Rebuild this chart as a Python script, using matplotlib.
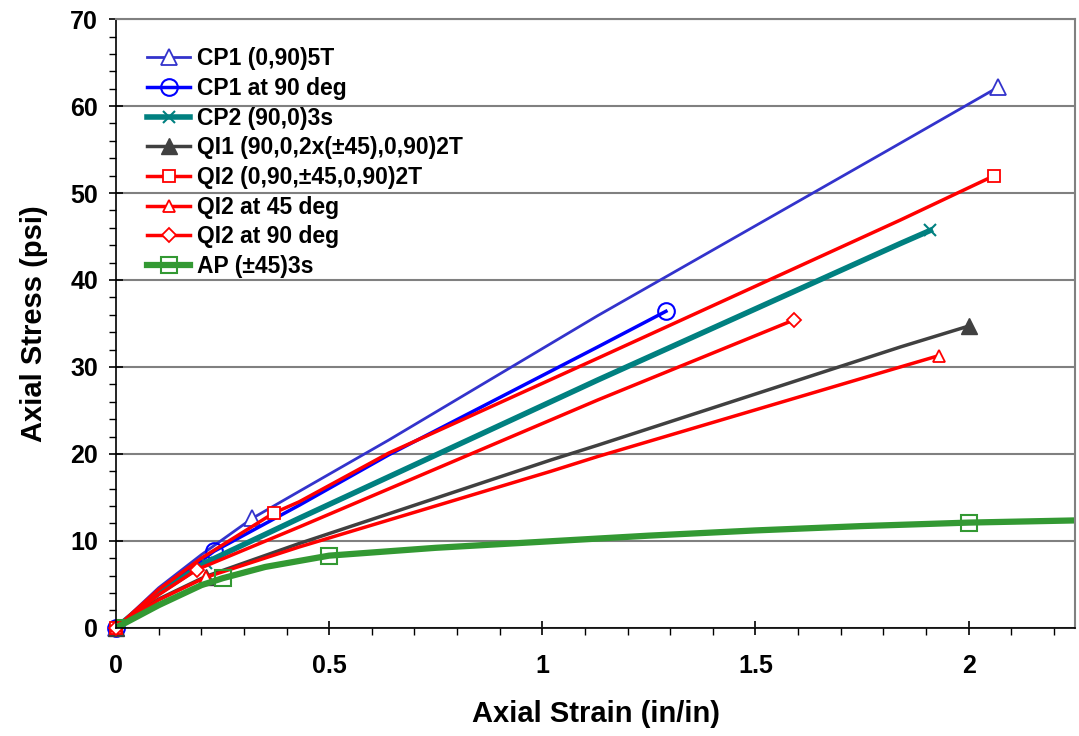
import matplotlib
matplotlib.use("Agg")
import matplotlib.pyplot as plt
from matplotlib.ticker import MultipleLocator

plt.rcParams["font.family"] = ["Liberation Sans", "DejaVu Sans"]
plt.rcParams["font.weight"] = "bold"

# data (strain in/in, stress psi)
cp1_x = [0, 0.10, 0.20, 0.32, 0.43, 0.64, 1.13, 1.81, 2.07]
cp1_y = [0, 4.6, 8.4, 12.6, 15.7, 21.6, 35.9, 54.9, 62.2]

cp1_90_x = [0, 0.12, 0.23, 0.43, 0.64, 1.13, 1.29]
cp1_90_y = [0, 4.8, 8.8, 14.1, 19.9, 32.3, 36.4]

cp2_x = [0, 0.10, 0.21, 0.43, 1.13, 1.84, 1.91]
cp2_y = [0, 4.0, 7.5, 12.6, 28.5, 44.2, 45.7]

qi1_x = [0, 0.10, 0.21, 0.43, 1.02, 1.13, 1.84, 2.00]
qi1_y = [0, 3.3, 5.9, 9.7, 19.3, 21.0, 32.3, 34.7]

qi2_x = [0, 0.10, 0.20, 0.37, 0.43, 0.64, 1.13, 1.84, 2.06]
qi2_y = [0, 4.4, 8.0, 13.2, 14.5, 20.1, 31.0, 46.9, 52.0]

qi2_45_x = [0, 0.10, 0.21, 0.43, 1.02, 1.13, 1.84, 1.93]
qi2_45_y = [0, 3.2, 5.8, 9.3, 18.0, 19.7, 30.0, 31.3]

qi2_90_x = [0, 0.10, 0.19, 0.43, 1.13, 1.59]
qi2_90_y = [0, 3.8, 6.7, 11.6, 26.2, 35.4]

ap_x = [0, 0.10, 0.20, 0.25, 0.35, 0.50, 0.75, 1.00, 1.25, 1.50, 1.75, 2.00, 2.30]
ap_y = [0, 2.6, 4.9, 5.7, 7.0, 8.3, 9.2, 9.9, 10.6, 11.2, 11.7, 12.1, 12.4]

fig = plt.figure(figsize=(10.79, 7.36), dpi=100)
ax = fig.add_axes([0.1075, 0.147, 0.889, 0.827])

ax.grid(axis="y", color="#808080", linewidth=1.5, zorder=0)
ax.set_axisbelow(True)

ax.plot(cp1_x, cp1_y, color="#3333CC", lw=2, marker="^", ms=12, mfc="white",
        mew=1.3, markevery=[0, 3, 8], label="CP1 (0,90)5T", clip_on=False)
ax.plot(cp1_90_x, cp1_90_y, color="#0000FF", lw=2.5, marker="o", ms=12, mfc="none",
        mew=1.5, markevery=[0, 2, 6], label="CP1 at 90 deg", clip_on=False)
ax.plot(cp2_x, cp2_y, color="#008080", lw=4, marker="x", ms=9, mew=1.5,
        markevery=[0, 2, 6], label="CP2 (90,0)3s", clip_on=False)
ax.plot(qi1_x, qi1_y, color="#404040", lw=2.5, marker="^", ms=12,
        markevery=[0, 2, 7], label="QI1 (90,0,2x(\u00b145),0,90)2T", clip_on=False)
ax.plot(qi2_x, qi2_y, color="#FF0000", lw=2.5, marker="s", ms=9, mfc="white",
        mew=1.3, markevery=[0, 3, 8], label="QI2 (0,90,\u00b145,0,90)2T", clip_on=False)
ax.plot(qi2_45_x, qi2_45_y, color="#FF0000", lw=2.5, marker="^", ms=9, mfc="white",
        mew=1.3, markevery=[0, 2, 7], label="QI2 at 45 deg", clip_on=False)
ax.plot(qi2_90_x, qi2_90_y, color="#FF0000", lw=2.5, marker="D", ms=7, mfc="white",
        mew=1.3, markevery=[0, 2, 5], label="QI2 at 90 deg", clip_on=False)
ax.plot(ap_x, ap_y, color="#339933", lw=4.5, marker="s", ms=12, mfc="none",
        mew=1.5, markevery=[0, 3, 5, 11], label="AP (\u00b145)3s")

ax.set_xlim(0, 2.25)
ax.set_ylim(0, 70)
ax.xaxis.set_minor_locator(MultipleLocator(0.1))
ax.yaxis.set_major_locator(MultipleLocator(10))
ax.yaxis.set_minor_locator(MultipleLocator(2))
ax.set_xticks([0, 0.5, 1, 1.5, 2])
ax.set_xticklabels(["0", "0.5", "1", "1.5", "2"])

ax.tick_params(which="major", direction="inout", length=10, width=1.2, labelsize=18)
ax.tick_params(which="minor", direction="out", length=5, width=1)
ax.tick_params(axis="x", which="major", pad=14)
ax.tick_params(axis="y", which="major", pad=8)

for s in ["top", "right"]:
    ax.spines[s].set_color("#808080")
    ax.spines[s].set_linewidth(1.5)
for s in ["left", "bottom"]:
    ax.spines[s].set_color("black")
    ax.spines[s].set_linewidth(1.2)

ax.set_xlabel("Axial Strain (in/in)", fontsize=21, fontweight="bold", labelpad=16)
ax.set_ylabel("Axial Stress (psi)", fontsize=21, fontweight="bold", labelpad=16)

ax.legend(loc="upper left", frameon=False, fontsize=16.5, handlelength=1.85,
          labelspacing=0.29, handletextpad=0.3, borderaxespad=0.3,
          bbox_to_anchor=(0.016, 0.98))

fig.savefig("out.png", dpi=100)
